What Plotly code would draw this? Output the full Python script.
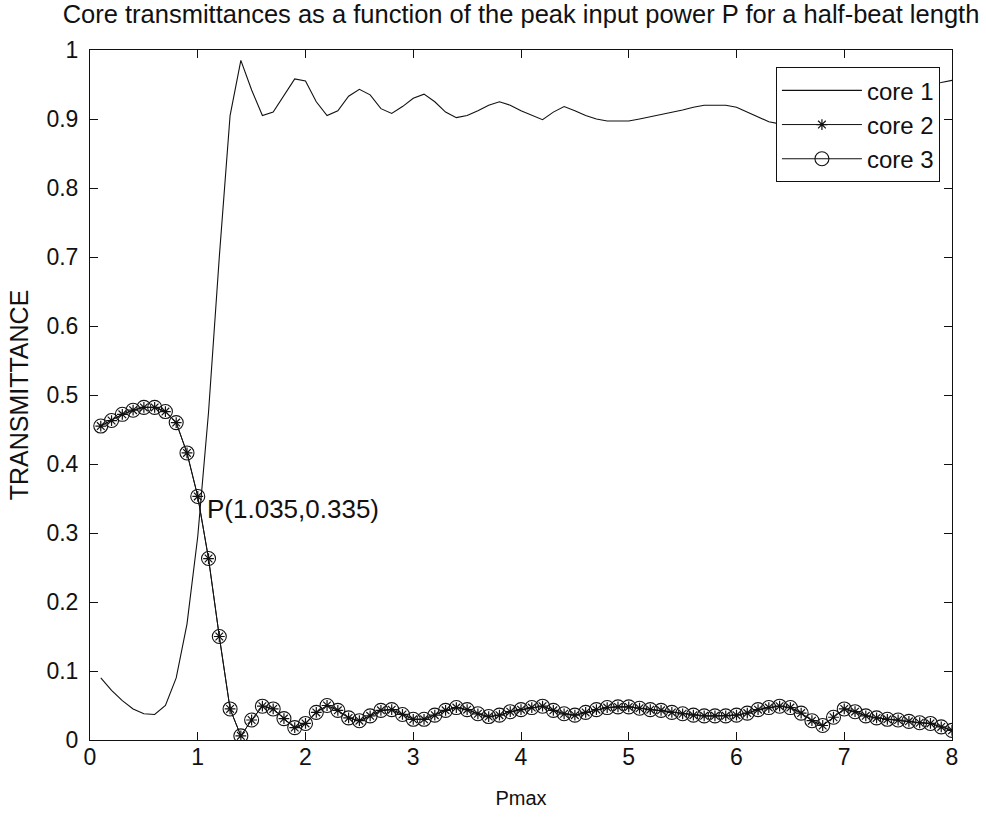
import plotly.graph_objects as go

pmax = [round(0.1 * i, 1) for i in range(1, 81)]

core1 = [0.090, 0.072, 0.057, 0.045, 0.038, 0.037, 0.050, 0.090, 0.168, 0.295,
         0.475, 0.700, 0.905, 0.985, 0.942, 0.905, 0.910, 0.935, 0.958, 0.955,
         0.925, 0.905, 0.912, 0.933, 0.943, 0.935, 0.915, 0.908, 0.918, 0.930,
         0.936, 0.925, 0.910, 0.902, 0.905, 0.912, 0.920, 0.925, 0.920, 0.912,
         0.905, 0.899, 0.910, 0.918, 0.912, 0.905, 0.900, 0.897, 0.897, 0.897,
         0.900, 0.903, 0.906, 0.910, 0.913, 0.917, 0.920, 0.920, 0.920, 0.917,
         0.910, 0.903, 0.896, 0.893, 0.900, 0.920, 0.943, 0.955, 0.934, 0.910,
         0.918, 0.930, 0.936, 0.940, 0.942, 0.945, 0.948, 0.950, 0.953, 0.956]

core23 = [0.455, 0.463, 0.472, 0.478, 0.482, 0.482, 0.476, 0.460, 0.416, 0.353,
          0.263, 0.150, 0.045, 0.006, 0.029, 0.049, 0.045, 0.031, 0.018, 0.024,
          0.040, 0.050, 0.043, 0.032, 0.028, 0.035, 0.043, 0.044, 0.037, 0.030,
          0.030, 0.036, 0.043, 0.047, 0.044, 0.038, 0.034, 0.036, 0.041, 0.044,
          0.047, 0.049, 0.043, 0.038, 0.036, 0.040, 0.044, 0.047, 0.048, 0.048,
          0.046, 0.044, 0.043, 0.040, 0.038, 0.036, 0.035, 0.035, 0.035, 0.036,
          0.039, 0.044, 0.047, 0.049, 0.047, 0.039, 0.028, 0.021, 0.033, 0.045,
          0.041, 0.035, 0.032, 0.030, 0.029, 0.027, 0.025, 0.024, 0.019, 0.014]
core2 = list(core23)
core3 = list(core23)

x_ticks = [0, 1, 2, 3, 4, 5, 6, 7, 8]
y_ticks = [0, 0.1, 0.2, 0.3, 0.4, 0.5, 0.6, 0.7, 0.8, 0.9, 1]
y_tick_labels = ["0", "0.1", "0.2", "0.3", "0.4", "0.5", "0.6", "0.7", "0.8", "0.9", "1"]

point_label = "P(1.035,0.335)"
point_xy = (1.035, 0.335)

FONT = "Liberation Sans, Arial, sans-serif"
INK = "#111111"

fig = go.Figure()
fig.add_trace(go.Scatter(x=pmax, y=core1, mode="lines", name="core 1",
                         line=dict(color=INK, width=1.1)))
fig.add_trace(go.Scatter(x=pmax, y=core2, mode="lines+markers", name="core 2",
                         line=dict(color=INK, width=1),
                         marker=dict(symbol="asterisk-open", size=9,
                                     line=dict(color=INK, width=1.2))))
fig.add_trace(go.Scatter(x=pmax, y=core3, mode="lines+markers", name="core 3",
                         line=dict(color=INK, width=1),
                         marker=dict(symbol="circle-open", size=14, color=INK,
                                     line=dict(color=INK, width=1.1))))

fig.add_annotation(x=point_xy[0], y=point_xy[1], text=point_label,
                   showarrow=False, xanchor="left", yanchor="middle", xshift=3,
                   font=dict(family=FONT, size=26, color=INK))

axis_common = dict(showline=True, linecolor=INK, linewidth=1, mirror="ticks",
                   ticks="inside", ticklen=8, tickcolor=INK, tickwidth=1,
                   showgrid=False, zeroline=False,
                   tickfont=dict(family=FONT, size=23, color=INK))

fig.update_layout(
    width=986, height=818,
    margin=dict(l=90, r=34, t=50, b=76),
    paper_bgcolor="white", plot_bgcolor="white",
    font=dict(family=FONT, color=INK),
    title=dict(text="Core transmittances as a function of the peak input power P for a half-beat length",
               x=0.5, xref="paper", y=1 - 14 / 818, yanchor="middle",
               font=dict(family=FONT, size=25.5, color=INK)),
    xaxis=dict(range=[0, 8], tickvals=x_ticks, ticklabelstandoff=-4,
               title=dict(text="Pmax", standoff=22, font=dict(family=FONT, size=20, color=INK)),
               **axis_common),
    yaxis=dict(range=[0, 1], tickvals=y_ticks, ticktext=y_tick_labels, ticklabelstandoff=6,
               title=dict(text="TRANSMITTANCE", standoff=10, font=dict(family=FONT, size=25, color=INK)),
               **axis_common),
    legend=dict(x=0.986, y=0.975, xanchor="right", yanchor="top",
                bgcolor="white", bordercolor=INK, borderwidth=1,
                font=dict(family=FONT, size=24, color=INK),
                tracegroupgap=0, itemwidth=80),
    showlegend=True,
)

fig.write_html("out.html", config={"displayModeBar": False},
               post_script="document.body.style.margin='0px';")
